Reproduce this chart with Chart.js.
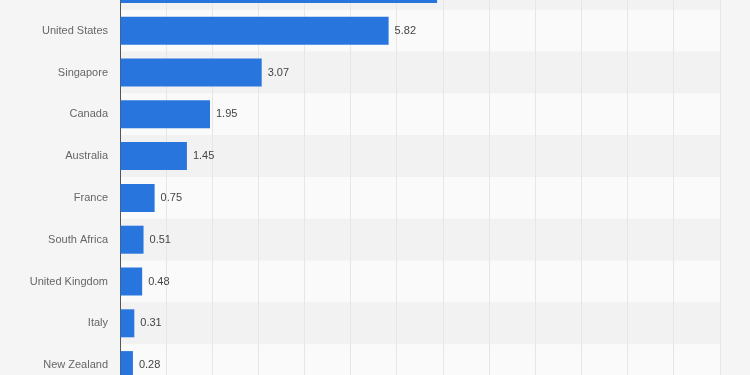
<!DOCTYPE html>
<html>
<head>
<meta charset="utf-8">
<script src="https://cdn.jsdelivr.net/npm/chart.js@4/dist/chart.umd.min.js"></script>
<style>
    html, body { margin: 0; padding: 0; background: #f5f5f5; overflow: hidden; width: 750px; height: 375px; }
    #wrap { position: absolute; left: 0; top: -32px; width: 750px; height: 418px; }
</style>
</head>
<body>
<div id="wrap"><canvas id="countryChart"></canvas></div>
<script>
// Chart.js configuration
Chart.defaults.font.family = "'Liberation Sans', 'Helvetica', 'Arial', sans-serif";
Chart.defaults.font.size = 11;
Chart.defaults.color = '#666666';

// Data
const countries = ['China', 'United States', 'Singapore', 'Canada', 'Australia', 'France',
    'South Africa', 'United Kingdom', 'Italy', 'New Zealand'];
const values = [6.87, 5.82, 3.07, 1.95, 1.45, 0.75, 0.51, 0.48, 0.31, 0.28];
const xTicks = [0, 1, 2, 3, 4, 5, 6, 7, 8, 9, 10, 11, 12, 13];

// Alternating row stripes, drawn before the grid
const rowBands = {
    id: 'rowBands',
    beforeDraw(chart) {
        const { ctx, chartArea, scales } = chart;
        const y = scales.y;
        const step = y.getPixelForValue(1) - y.getPixelForValue(0);
        ctx.save();
        countries.forEach((c, i) => {
            const center = y.getPixelForValue(i);
            ctx.fillStyle = i % 2 === 0 ? '#f2f2f2' : '#fafafa';
            ctx.fillRect(chartArea.left, center - step / 2, chartArea.right - chartArea.left, step);
        });
        ctx.restore();
    }
};

// Value labels at the end of each bar
const valueLabels = {
    id: 'valueLabels',
    afterDatasetsDraw(chart) {
        const { ctx } = chart;
        const meta = chart.getDatasetMeta(0);
        ctx.save();
        ctx.fillStyle = '#444444';
        ctx.font = "11px 'Liberation Sans', Arial, sans-serif";
        ctx.textAlign = 'left';
        ctx.textBaseline = 'middle';
        meta.data.forEach((bar, i) => {
            ctx.fillText(values[i].toFixed(2), bar.x + 6, bar.y);
        });
        ctx.restore();
    }
};

new Chart(document.getElementById('countryChart'), {
    type: 'bar',
    data: {
        labels: countries,
        datasets: [{
            data: values,
            backgroundColor: '#2876dd',
            borderWidth: 0,
            barPercentage: 0.67,
            categoryPercentage: 1
        }]
    },
    options: {
        indexAxis: 'y',
        responsive: true,
        maintainAspectRatio: false,
        animation: false,
        layout: {
            padding: { left: 0, right: 30, top: 0, bottom: 0 }
        },
        scales: {
            x: {
                min: xTicks[0],
                max: xTicks[xTicks.length - 1],
                afterBuildTicks: scale => {
                    scale.ticks = xTicks.map(v => ({ value: v }));
                },
                afterFit: scale => { scale.height = 0; },
                ticks: { display: false },
                grid: {
                    color: '#e6e6e6',
                    lineWidth: 1,
                    drawTicks: false
                },
                border: { display: false }
            },
            y: {
                afterFit: scale => {
                    scale.width = 120;
                    scale.paddingTop = 0;
                    scale.paddingBottom = 0;
                },
                ticks: {
                    color: '#666666',
                    padding: 12
                },
                grid: { display: false, drawTicks: false },
                border: { display: true, color: '#555555', width: 1 }
            }
        },
        plugins: {
            legend: { display: false },
            tooltip: { enabled: false }
        }
    },
    plugins: [rowBands, valueLabels]
});
</script>
</body>
</html>
